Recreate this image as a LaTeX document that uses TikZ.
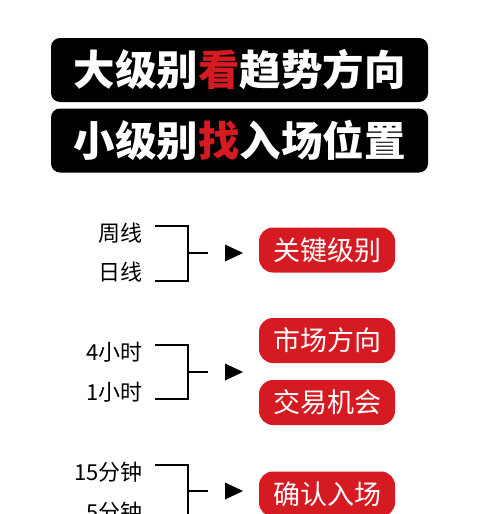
\documentclass[tikz,border=0pt]{standalone}
\usepackage{fontspec}
\newfontfamily\cjk{Noto Sans CJK SC}
\usetikzlibrary{positioning}
\definecolor{pillred}{RGB}{214,26,34}

\begin{document}
\begin{tikzpicture}[x=1pt,y=-1pt,
  banner/.style={fill=black,rounded corners=9pt,minimum width=377pt,minimum height=64pt,inner sep=0pt,text=white,font=\cjk\bfseries\fontsize{41.5}{41.5}\selectfont},
  pill/.style={fill=pillred,rounded corners=14pt,minimum width=136pt,minimum height=45pt,inner sep=0pt,text=white,font=\cjk\fontsize{27}{27}\selectfont},
  lbl/.style={anchor=east,inner sep=0pt,font=\cjk\fontsize{22}{22}\selectfont},
  brk/.style={line width=1.7pt}]
 \useasboundingbox (0,0) rectangle (480,514);
 \clip (0,0) rectangle (480,514);
 %BANNERS
 \node[banner] (big) at (239.5,70) {大级别\textcolor{pillred}{看}趋势方向};
 \node[banner] (small) at (239.5,140.5) {小级别\textcolor{pillred}{找}入场位置};
 %LABELS
 \node[lbl] (wk) at (143,233) {周线};
 \node[lbl] (dy) at (143,272) {日线};
 \node[lbl] (h4) at (143,352) {4小时};
 \node[lbl] (h1) at (143,392) {1小时};
 \node[lbl] (m15) at (143,472) {15分钟};
 \node[lbl] (m5) at (143,512) {5分钟};
 %PILLS
 \node[pill] (kl) at (327,250) {关键级别};
 \node[pill] (sc) at (327,340.5) {市场方向};
 \node[pill] (jy) at (327,402.5) {交易机会};
 \node[pill] (qr) at (327,494) {确认入场};
 %JOINTS
 \coordinate (b1) at (188,253);
 \coordinate (e1) at (208,253);
 \coordinate (b2) at (188,372);
 \coordinate (e2) at (208,372);
 \coordinate (b3) at (188,491);
 \coordinate (e3) at (208,491);
 %EDGES
 \draw[brk] ([xshift=12pt,yshift=7pt]wk.east) -| (b1) |- ([xshift=12pt,yshift=-9pt]dy.east);
 \draw[brk] (b1) -- (e1);
 \draw[brk] ([xshift=12pt,yshift=7pt]h4.east) -| (b2) |- ([xshift=12pt,yshift=-7pt]h1.east);
 \draw[brk] (b2) -- (e2);
 \draw[brk] ([xshift=12pt,yshift=7pt]m15.east) -| (b3) |- ([xshift=12pt,yshift=-7pt]m5.east);
 \draw[brk] (b3) -- (e3);
 %TIPS
 \fill ([xshift=17pt,yshift=8.5pt]e1) -- ([xshift=35pt]e1) -- ([xshift=17pt,yshift=-8.5pt]e1) -- cycle;
 \fill ([xshift=17pt,yshift=8.5pt]e2) -- ([xshift=35pt]e2) -- ([xshift=17pt,yshift=-8.5pt]e2) -- cycle;
 \fill ([xshift=17pt,yshift=8.5pt]e3) -- ([xshift=35pt]e3) -- ([xshift=17pt,yshift=-8.5pt]e3) -- cycle;
\end{tikzpicture}
\end{document}
